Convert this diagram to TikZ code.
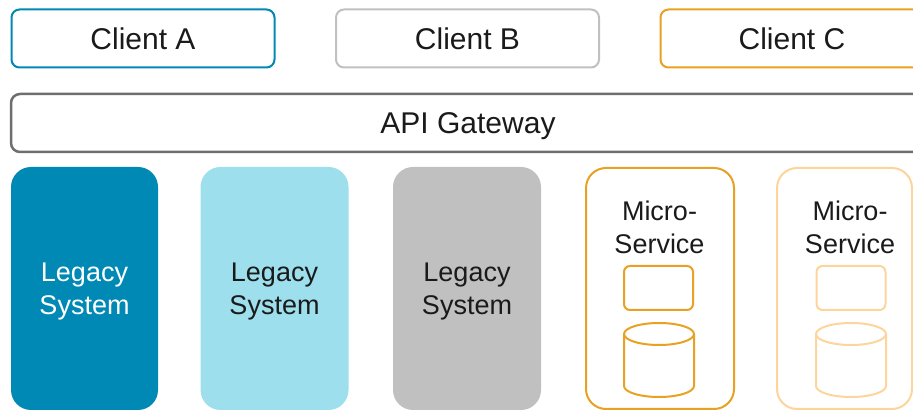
\documentclass[tikz,border=0pt]{standalone}
\usepackage{fontspec}
\setmainfont{Liberation Sans}
\usepackage{tikz}
\usetikzlibrary{positioning}

\definecolor{legacydark}{HTML}{0089B4}
\definecolor{legacylight}{HTML}{9DDFEC}
\definecolor{legacygray}{HTML}{C0C0C0}
\definecolor{svcorange}{HTML}{E8A123}
\definecolor{svclight}{HTML}{FDD49B}
\definecolor{gatewaygray}{HTML}{6E6E6E}
\definecolor{labelblack}{HTML}{1A1A1A}

\begin{document}
\begin{tikzpicture}[x=1pt, y=-1pt, text=labelblack,
    client/.style={draw, line width=2pt, rounded corners=8pt, minimum width=263pt,
      minimum height=58pt, font=\fontsize{30}{36}\selectfont},
    legacy/.style={rounded corners=20pt, minimum width=148pt, minimum height=243pt,
      align=center, text depth=-1.5pt, font=\fontsize{27}{33}\selectfont},
    service/.style={draw, line width=2pt, rounded corners=20pt, minimum height=241pt},
    svclabel/.style={align=center, font=\fontsize{27}{33}\selectfont},
    logic/.style={draw, line width=2pt, rounded corners=6pt, minimum width=69pt, minimum height=44pt}]
    \useasboundingbox (0,0) rectangle (913,411);
    \clip (0,0) rectangle (913,411);

    % clients
    \node[client, draw=legacydark] (clientA) at (143,38.5) {Client A};
    \node[client, draw=legacygray] (clientB) at (467.5,38.5) {Client B};
    \node[client, draw=svcorange] (clientC) at (792,38.5) {Client C};

    % gateway
    \node[client, draw=gatewaygray, line width=2.5pt, rounded corners=9pt,
          minimum width=914pt, text depth=0pt] (gateway) at (468,123) {API Gateway};

    % legacy systems
    \node[legacy, fill=legacydark, text=white, minimum width=147pt] (legacyA) at (84.5,288.5) {Legacy\\System};
    \node[legacy, fill=legacylight] (legacyB) at (274.5,288.5) {Legacy\\System};
    \node[legacy, fill=legacygray] (legacyC) at (467,288.5) {Legacy\\System};

    % micro services
    \node[service, draw=svcorange, minimum width=148pt] (svcA) at (660,288.5) {};
    \node[svclabel] (svcAtext) at (659.5,227) {Micro-\\Service};
    \node[logic, draw=svcorange] (svcAbox) at (658.5,288) {};
    \draw[svcorange, line width=2pt] (624,334) -- (624,386)
        arc[start angle=180, end angle=0, x radius=35, y radius=11] -- (694,334);
    \draw[svcorange, line width=2pt] (659,334) ellipse[x radius=35, y radius=11];

    \node[service, draw=svclight, minimum width=135pt] (svcB) at (844.5,288.5) {};
    \node[svclabel] (svcBtext) at (850,227) {Micro-\\Service};
    \node[logic, draw=svclight] (svcBbox) at (851,288) {};
    \draw[svclight, line width=2pt] (816,334) -- (816,386)
        arc[start angle=180, end angle=0, x radius=35, y radius=11] -- (886,334);
    \draw[svclight, line width=2pt] (851,334) ellipse[x radius=35, y radius=11];
\end{tikzpicture}
\end{document}
